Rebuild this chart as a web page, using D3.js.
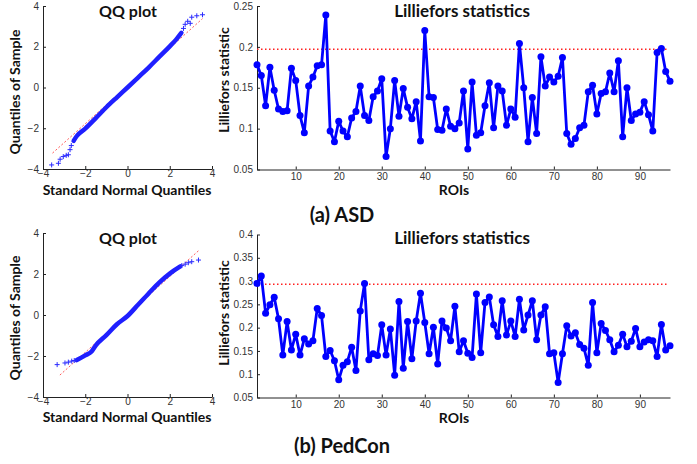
<!DOCTYPE html>
<html>
<head>
<meta charset="utf-8">
<script src="https://cdn.jsdelivr.net/npm/d3@7"></script>
<style>
  body { margin: 0; background: #fff; }
  svg { display: block; }
  .tick text { font-family: "Liberation Sans", Arial, sans-serif; font-size: 10px; fill: #333; }
  .lbl { font-family: Lato, "Open Sans", sans-serif; font-weight: bold; fill: #111; }
</style>
</head>
<body>
<svg id="chart" width="697" height="464"></svg>
<script>
'use strict'

// ROI indices 1..97
var rois = d3.range(1, 98);

// Lilliefors statistic per ROI
var asdStats = [
  0.178, 0.165, 0.128, 0.175, 0.147, 0.124, 0.121, 0.122, 0.174, 0.159,
  0.116, 0.095, 0.152, 0.163, 0.177, 0.178, 0.239, 0.097, 0.084, 0.109,
  0.097, 0.090, 0.113, 0.121, 0.152, 0.116, 0.110, 0.139, 0.146, 0.161,
  0.066, 0.100, 0.159, 0.115, 0.149, 0.126, 0.112, 0.133, 0.085, 0.220,
  0.139, 0.138, 0.099, 0.098, 0.124, 0.103, 0.100, 0.107, 0.146, 0.075,
  0.157, 0.092, 0.095, 0.128, 0.156, 0.101, 0.152, 0.146, 0.104, 0.124,
  0.114, 0.204, 0.150, 0.084, 0.138, 0.094, 0.188, 0.152, 0.163, 0.157,
  0.164, 0.187, 0.094, 0.081, 0.088, 0.101, 0.104, 0.145, 0.153, 0.118,
  0.143, 0.145, 0.168, 0.145, 0.183, 0.090, 0.150, 0.110, 0.118, 0.120,
  0.133, 0.117, 0.097, 0.193, 0.198, 0.170, 0.158
];
var pedconStats = [
  0.295, 0.311, 0.231, 0.249, 0.265, 0.219, 0.141, 0.213, 0.152, 0.186,
  0.141, 0.176, 0.165, 0.172, 0.241, 0.226, 0.138, 0.151, 0.129, 0.088,
  0.119, 0.127, 0.158, 0.108, 0.236, 0.295, 0.131, 0.144, 0.140, 0.206,
  0.141, 0.197, 0.098, 0.256, 0.113, 0.213, 0.133, 0.214, 0.274, 0.211,
  0.144, 0.201, 0.122, 0.214, 0.199, 0.172, 0.246, 0.148, 0.172, 0.145,
  0.136, 0.272, 0.146, 0.254, 0.266, 0.206, 0.181, 0.258, 0.184, 0.214,
  0.181, 0.261, 0.195, 0.227, 0.258, 0.174, 0.227, 0.245, 0.144, 0.146,
  0.082, 0.144, 0.204, 0.182, 0.189, 0.164, 0.156, 0.119, 0.254, 0.146,
  0.209, 0.194, 0.174, 0.148, 0.162, 0.186, 0.159, 0.171, 0.198, 0.159,
  0.169, 0.174, 0.172, 0.138, 0.207, 0.152, 0.161
];
var asdThreshold = 0.197;
var pedconThreshold = 0.293;

// QQ plots: [theoretical, sample] — dense middle as a band, tails as single markers
var asdQQBody = [[-2.55, -2.62], [-2.4, -2.38], [-2.0, -2.02], [-1.5, -1.5], [-1.0, -0.97], [-0.5, -0.48], [0, 0.0], [0.5, 0.49], [1.0, 0.98], [1.5, 1.5], [2.0, 2.02], [2.3, 2.35], [2.55, 2.68]];
var asdQQTail = [[-3.59, -3.8], [-3.27, -3.72], [-3.19, -3.52], [-3.04, -3.39], [-2.9, -3.33], [-2.8, -3.3], [-2.72, -3.05], [-2.66, -2.85], [2.65, 2.9], [2.73, 3.1], [2.85, 3.25], [2.97, 3.15], [3.04, 3.45], [3.28, 3.52], [3.55, 3.57]];
var asdQQRef = [[-3.55, -3.22], [3.55, 3.38]];

var pedQQBody = [[-2.4, -2.2], [-2.0, -1.97], [-1.7, -1.78], [-1.5, -1.48], [-1.0, -0.98], [-0.5, -0.45], [0, -0.05], [0.5, 0.5], [1.0, 1.05], [1.5, 1.58], [2.0, 2.02], [2.5, 2.37]];
var pedQQTail = [[-3.33, -2.42], [-2.96, -2.34], [-2.8, -2.3], [-2.64, -2.25], [-2.52, -2.22], [2.57, 2.41], [2.73, 2.48], [2.88, 2.55], [3.04, 2.6], [3.36, 2.68]];
var pedQQRef = [[-3.2, -2.93], [3.4, 3.17]];

var qqTicks = [-4, -2, 0, 2, 4];
var roiTicks = [10, 20, 30, 40, 50, 60, 70, 80, 90];
var asdTicks = [0.05, 0.1, 0.15, 0.2, 0.25];
var pedconTicks = [0.05, 0.1, 0.15, 0.2, 0.25, 0.3, 0.35, 0.4];

var svg = d3.select("#chart");

function styleAxis(g) {
    g.select(".domain").attr("stroke", "#222").attr("stroke-width", 1);
    g.selectAll(".tick line").attr("stroke", "#222");
}

function label(x, y, text, size, rotate) {
    var t = svg.append("text")
        .attr("class", "lbl")
        .attr("text-anchor", "middle")
        .attr("font-size", size)
        .text(text);
    if (rotate) t.attr("transform", `translate(${x},${y}) rotate(-90)`);
    else t.attr("x", x).attr("y", y);
    return t;
}

function plus(g, pts, x, y) {
    g.selectAll("path.pt")
        .data(pts)
        .enter().append("path")
        .attr("class", "pt")
        .attr("d", (d) => {
            var cx = x(d[0]), cy = y(d[1]);
            return `M${cx - 2.5},${cy}H${cx + 2.5}M${cx},${cy - 2.5}V${cy + 2.5}`;
        })
        .attr("stroke", "#2a2aff")
        .attr("stroke-width", 1);
}

function qqPlot(top, bottom, body, tail, ref) {
    var x = d3.scaleLinear().domain([-4, 4]).range([43, 212]);
    var y = d3.scaleLinear().domain([-4, 4]).range([bottom, top]);
    var g = svg.append("g");

    g.append("g")
        .attr("transform", `translate(0,${bottom})`)
        .call(d3.axisBottom(x).tickValues(qqTicks).tickSize(-3).tickSizeOuter(0).tickPadding(1)
            .tickFormat((d) => d < 0 ? "\u2212" + Math.abs(d) : d))
        .call(styleAxis);
    g.append("g")
        .attr("transform", `translate(43,0)`)
        .call(d3.axisLeft(y).tickValues(qqTicks).tickSize(-3).tickSizeOuter(0).tickPadding(4)
            .tickFormat((d) => d < 0 ? "\u2212" + Math.abs(d) : d))
        .call(styleAxis);

    var line = d3.line().x((d) => x(d[0])).y((d) => y(d[1]));

    g.append("path")
        .datum(ref)
        .attr("d", line)
        .attr("fill", "none")
        .attr("stroke", "#ff5a5a")
        .attr("stroke-width", 1)
        .attr("stroke-dasharray", "2,2");

    g.append("path")
        .datum(body)
        .attr("d", line.curve(d3.curveMonotoneX))
        .attr("fill", "none")
        .attr("stroke", "#1f1fff")
        .attr("stroke-width", 4.5)
        .attr("stroke-linecap", "round");

    plus(g, tail, x, y);
}

function lillieforsPlot(top, bottom, values, threshold, yTicks, yMax) {
    var x = d3.scaleLinear().domain([1, 97]).range([257, 670]);
    var y = d3.scaleLinear().domain([0.05, yMax]).range([bottom, top]);
    var g = svg.append("g");

    g.append("g")
        .attr("transform", `translate(0,${bottom})`)
        .call(d3.axisBottom(x).tickValues(roiTicks).tickSize(-3).tickSizeOuter(0).tickPadding(3))
        .call(styleAxis);
    g.append("g")
        .attr("transform", `translate(257,0)`)
        .call(d3.axisLeft(y).tickValues(yTicks).tickSize(-3).tickSizeOuter(0).tickPadding(4)
            .tickFormat((d) => +d.toFixed(2)))
        .call(styleAxis);

    g.append("line")
        .attr("x1", x(1)).attr("x2", x(96.5))
        .attr("y1", y(threshold)).attr("y2", y(threshold))
        .attr("stroke", "#ff2020")
        .attr("stroke-width", 1.5)
        .attr("stroke-dasharray", "1.5,2.5");

    var line = d3.line()
        .x((d, i) => x(rois[i]))
        .y((d) => y(d));

    g.append("path")
        .datum(values)
        .attr("d", line)
        .attr("fill", "none")
        .attr("stroke", "#0000ff")
        .attr("stroke-width", 2.8)
        .attr("stroke-linejoin", "round");

    g.selectAll("circle")
        .data(values)
        .enter().append("circle")
        .attr("cx", (d, i) => x(rois[i]))
        .attr("cy", (d) => y(d))
        .attr("r", 3.5)
        .attr("fill", "#0000ff");
}

// (a) ASD
qqPlot(6, 169, asdQQBody, asdQQTail, asdQQRef);
lillieforsPlot(6, 169.5, asdStats, asdThreshold, asdTicks, 0.25);
// (b) PedCon
qqPlot(233, 397, pedQQBody, pedQQTail, pedQQRef);
lillieforsPlot(234.5, 397.5, pedconStats, pedconThreshold, pedconTicks, 0.4);

// titles and axis labels
label(128, 17, "QQ plot", 16);
label(128, 244, "QQ plot", 16);
label(20, 92, "Quantiles of Sample", 14, true);
label(20, 318, "Quantiles of Sample", 14, true);
label(127, 195, "Standard Normal Quantiles", 14);
label(127, 422, "Standard Normal Quantiles", 14);

label(462, 17, "Lilliefors statistics", 17);
label(462, 244, "Lilliefors statistics", 17);
label(229, 80, "Lilliefors statistic", 14, true);
label(229, 313, "Lilliefors statistic", 14, true);
label(454, 195, "ROIs", 14);
label(454, 423, "ROIs", 14);

label(342, 222, "(a) ASD", 20);
label(342, 453, "(b) PedCon", 20);
</script>
</body>
</html>
